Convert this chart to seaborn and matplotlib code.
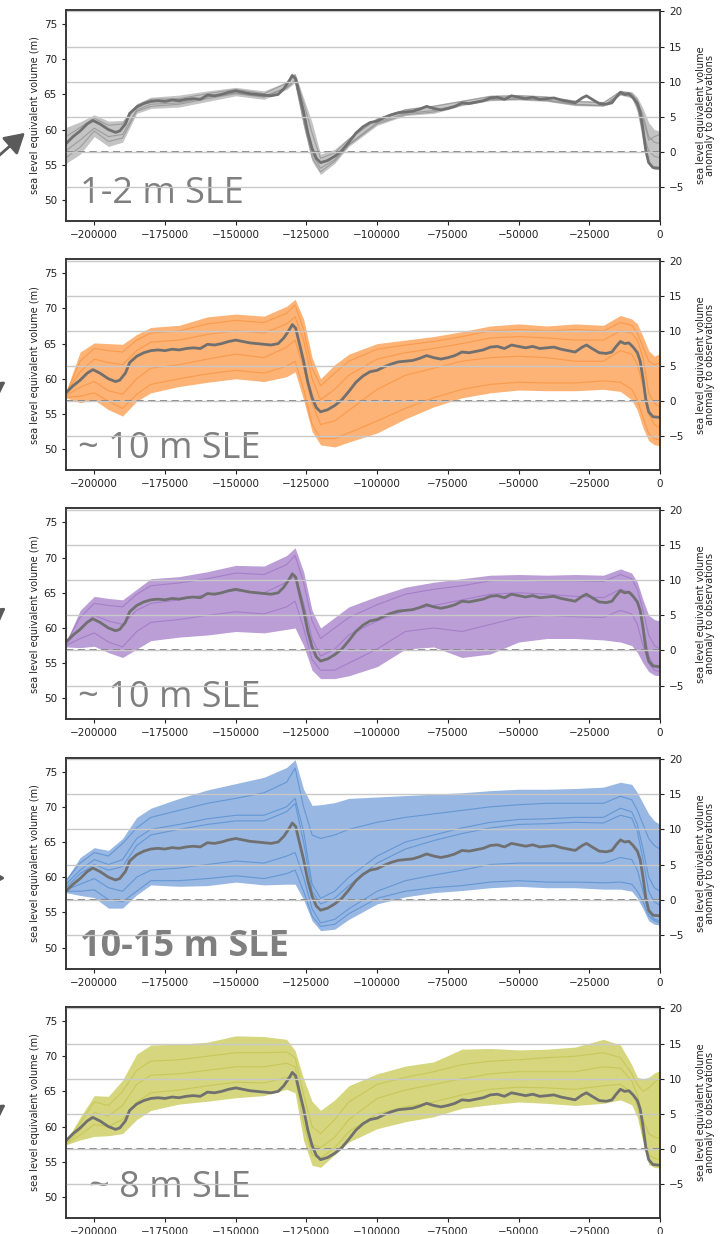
import matplotlib
matplotlib.use("Agg")
import matplotlib.pyplot as plt
import numpy as np
import seaborn as sns

# time grid (kyr) shared by envelopes and ensemble members
T_KYR = [-210, -205, -200, -195, -190, -185, -180, -170, -160, -150, -140, -132, -129,
         -126, -123, -120, -115, -110, -100, -90, -80, -70, -60, -50, -40, -30, -20,
         -14, -10, -8, -6, -4, -2, 0]

# reference run (thick grey line, same in every panel)
MEAN_T_KYR = [-210, -207.5, -205, -202.5, -200.5, -198, -195, -192.5, -191, -189, -187.5,
              -185, -182.5, -180, -177.5, -175, -172.5, -170, -167.5, -165, -162.5, -160,
              -157.5, -155, -152.5, -150, -147.5, -145, -142.5, -140, -137.5, -135, -133,
              -131, -130, -128.8, -127.5, -126, -124.5, -123, -121.5, -120, -117.5, -115,
              -112.5, -110, -107.5, -105, -102.5, -100, -97.5, -95, -92.5, -90, -87.5, -85,
              -82.5, -80, -77.5, -75, -72.5, -70, -67.5, -65, -62.5, -60, -57.5, -55, -52.5,
              -50, -47.5, -45, -42.5, -40, -37.5, -35, -32.5, -30, -27.5, -26, -24, -21.5,
              -19, -17, -15.5, -14, -12.5, -11, -9.5, -8, -7, -6, -5, -4, -2.5, 0]
MEAN_V = [58.0, 59.0, 59.8, 60.8, 61.3, 60.8, 60.0, 59.6, 59.8, 60.8, 62.3,
          63.2, 63.7, 64.0, 64.1, 64.0, 64.2, 64.1, 64.3, 64.4, 64.3, 64.9,
          64.8, 65.0, 65.3, 65.5, 65.3, 65.1, 65.0, 64.9, 64.8, 65.0, 65.8,
          67.0, 67.7, 67.2, 65.0, 62.5, 59.5, 57.3, 55.9, 55.3, 55.6, 56.2,
          57.0, 58.2, 59.5, 60.4, 61.0, 61.2, 61.7, 62.1, 62.4, 62.5, 62.6, 62.9,
          63.3, 63.0, 62.8, 63.0, 63.3, 63.8, 63.7, 63.9, 64.1, 64.5, 64.6, 64.3, 64.8,
          64.6, 64.4, 64.6, 64.3, 64.4, 64.5, 64.2, 64.0, 63.8, 64.5, 64.8, 64.3, 63.7,
          63.6, 63.8, 64.6, 65.3, 65.0, 65.1, 64.5, 63.7, 62.5, 60.0, 57.0, 55.3, 54.6, 54.5]

OBS_LEVEL = 56.8  # observed volume -> zero of the anomaly axis

# panel 1 (grey, 1-2 m SLE)
GREY_UP = [60.3, 61.1, 62.1, 61.2, 61.3, 63.7, 64.6, 64.9, 65.5, 66.0, 65.5, 66.8, 68.0,
           64.5, 61.0, 56.5, 57.2, 58.9, 61.7, 63.0, 63.5, 64.2, 64.9, 65.0, 64.8, 64.2,
           64.0, 65.6, 65.4, 64.6, 63.0, 61.0, 60.0, 59.8]
GREY_LO = [55.2, 56.5, 59.0, 57.6, 58.2, 62.3, 63.0, 63.2, 64.0, 64.8, 64.3, 65.7, 66.7,
           60.5, 55.5, 53.6, 55.2, 57.6, 60.6, 62.0, 62.3, 63.4, 64.1, 64.2, 64.0, 63.4,
           63.3, 64.9, 64.5, 62.5, 58.0, 55.0, 54.3, 54.3]
GREY_MEMBERS = [
    [57.0, 58.5, 60.2, 59.0, 59.3, 62.8, 63.6, 63.8, 64.6, 65.2, 64.7, 66.0, 67.0, 61.5,
     56.5, 54.5, 55.7, 57.9, 61.0, 62.3, 62.7, 63.6, 64.3, 64.4, 64.2, 63.6, 63.4, 65.1,
     64.8, 63.2, 59.5, 57.0, 56.2, 56.0],
    [59.0, 60.3, 61.6, 60.6, 60.8, 63.4, 64.3, 64.4, 65.1, 65.7, 65.1, 66.6, 67.8, 63.8,
     59.5, 55.9, 56.7, 58.6, 61.5, 62.8, 63.3, 64.0, 64.7, 64.8, 64.6, 64.0, 63.8, 65.4,
     65.1, 64.2, 62.0, 59.0, 58.2, 58.0],
    [56.0, 57.5, 59.8, 58.3, 58.8, 62.6, 63.3, 63.6, 64.4, 65.1, 64.6, 65.9, 66.9, 61.0,
     56.0, 54.0, 55.5, 57.8, 60.8, 62.1, 62.5, 63.5, 64.2, 64.3, 64.1, 63.5, 63.4, 65.0,
     64.7, 63.8, 61.5, 58.5, 59.0, 59.3],
]

# panel 2 (orange, ~10 m SLE)
ORANGE_UP = [58.2, 63.8, 65.1, 65.0, 64.9, 66.3, 67.3, 67.6, 68.8, 69.2, 68.9, 70.3, 71.3,
             68.5, 63.0, 60.0, 62.0, 63.5, 65.0, 65.5, 66.0, 66.7, 67.5, 67.8, 67.5, 67.8,
             67.6, 69.0, 68.5, 67.8, 66.0, 64.0, 63.2, 63.6]
ORANGE_LO = [57.3, 56.6, 57.0, 55.6, 54.7, 56.8, 58.0, 58.9, 59.5, 60.0, 59.6, 60.3, 61.0,
             57.0, 52.5, 50.6, 50.3, 51.0, 52.3, 54.3, 56.0, 57.3, 58.0, 58.4, 58.3, 58.3,
             58.5, 58.2, 57.0, 55.5, 53.0, 51.2, 50.6, 50.5]
ORANGE_MEMBERS = [
    [57.8, 62.5, 64.3, 64.0, 63.8, 65.5, 66.5, 66.8, 67.8, 68.3, 68.0, 69.3, 70.5, 67.0,
     61.5, 59.0, 60.8, 62.5, 64.2, 64.8, 65.3, 66.0, 66.8, 67.0, 66.8, 67.0, 66.8, 68.0,
     67.6, 66.5, 64.5, 62.5, 62.0, 62.3],
    [58.0, 61.0, 62.8, 62.3, 62.0, 64.0, 65.2, 65.5, 66.3, 66.8, 66.5, 67.8, 68.8, 65.5,
     60.0, 57.0, 58.5, 60.5, 62.8, 63.7, 64.3, 65.0, 65.8, 66.0, 65.8, 65.5, 65.5, 66.8,
     66.5, 65.5, 63.0, 58.0, 56.5, 56.0],
    [57.6, 58.8, 59.6, 58.3, 57.8, 60.0, 61.5, 62.0, 62.8, 63.5, 63.0, 64.5, 65.5, 61.5,
     56.5, 53.5, 54.0, 55.5, 58.5, 60.5, 61.5, 62.5, 63.0, 63.2, 63.0, 62.5, 62.5, 64.0,
     63.5, 62.0, 59.0, 55.0, 53.5, 53.0],
    [57.4, 57.5, 58.0, 56.8, 55.8, 57.8, 59.2, 60.0, 60.7, 61.2, 60.8, 61.8, 62.5, 58.5,
     53.5, 51.5, 51.5, 52.3, 54.0, 55.8, 57.3, 58.5, 59.2, 59.5, 59.4, 59.4, 59.7, 59.5,
     58.5, 57.0, 54.5, 52.2, 51.5, 51.3],
]

# panel 3 (purple, ~10 m SLE)
PURPLE_UP = [58.0, 62.5, 64.5, 64.2, 64.0, 65.5, 67.0, 67.3, 68.0, 68.9, 68.8, 70.3, 71.4,
             68.0, 62.5, 60.0, 61.5, 63.0, 64.5, 65.8, 66.5, 67.0, 67.5, 67.6, 67.5, 67.6,
             67.5, 68.4, 67.8, 66.5, 64.0, 61.8, 61.2, 61.0]
PURPLE_LO = [57.3, 57.2, 57.4, 56.5, 55.8, 57.0, 58.2, 58.7, 59.0, 59.5, 59.3, 59.8, 60.0,
             57.5, 54.0, 52.8, 52.8, 53.2, 54.5, 57.0, 57.3, 55.8, 56.3, 58.0, 58.5, 58.5,
             58.3, 58.0, 57.5, 56.5, 55.0, 53.8, 53.3, 53.2]
PURPLE_MEMBERS = [
    [57.8, 61.5, 63.5, 63.2, 63.0, 64.8, 66.0, 66.4, 67.0, 67.8, 67.6, 69.0, 70.3, 66.5,
     61.0, 58.5, 60.0, 61.5, 63.3, 64.8, 65.5, 66.0, 66.7, 66.8, 66.7, 66.7, 66.6, 67.6,
     67.0, 65.5, 62.5, 59.0, 57.5, 57.0],
    [57.7, 60.0, 61.8, 61.0, 60.5, 62.5, 63.5, 64.0, 64.8, 65.3, 65.0, 66.5, 67.5, 63.5,
     58.5, 56.0, 57.0, 59.0, 61.0, 62.5, 63.2, 64.0, 64.8, 65.0, 64.8, 64.5, 64.3, 65.5,
     65.0, 63.5, 60.5, 56.0, 54.5, 54.2],
    [57.5, 58.5, 59.3, 58.0, 57.3, 59.5, 60.8, 61.2, 61.8, 62.3, 62.0, 63.0, 63.8, 60.0,
     55.5, 54.0, 54.0, 55.0, 57.0, 59.5, 60.0, 59.5, 60.5, 61.5, 61.8, 61.6, 61.5, 62.5,
     62.0, 60.5, 57.5, 55.0, 54.0, 53.8],
]

# panel 4 (blue, 10-15 m SLE)
BLUE_UP = [59.7, 62.8, 64.2, 63.8, 65.5, 68.5, 69.8, 71.2, 72.4, 73.3, 74.2, 75.6, 76.7,
           72.5, 70.2, 70.3, 70.6, 71.2, 71.4, 71.6, 71.8, 72.0, 72.3, 72.5, 72.5, 72.6,
           72.8, 73.5, 73.2, 72.0, 70.5, 69.0, 68.0, 67.5]
BLUE_LO = [57.8, 57.4, 57.1, 55.6, 55.6, 57.5, 58.9, 58.7, 58.8, 59.3, 58.9, 59.0, 59.0,
           56.8, 53.8, 52.4, 52.6, 54.0, 56.2, 57.2, 57.8, 58.1, 58.5, 58.7, 58.5, 58.5,
           58.3, 58.3, 58.0, 57.0, 55.5, 53.8, 53.3, 53.2]
BLUE_MEMBERS = [
    [59.5, 62.0, 63.5, 63.0, 64.8, 67.0, 68.5, 69.5, 70.5, 71.2, 72.0, 73.5, 75.5, 70.0,
     66.0, 65.5, 66.0, 66.8, 67.8, 68.5, 69.0, 69.5, 70.0, 70.3, 70.5, 70.5, 70.5, 71.5,
     71.0, 69.5, 67.5, 65.5, 64.5, 64.0],
    [59.0, 61.0, 62.5, 61.8, 62.5, 65.5, 66.8, 67.5, 68.3, 68.8, 68.8, 70.0, 71.2, 66.5,
     59.0, 57.0, 58.0, 60.0, 63.0, 65.0, 66.0, 67.0, 67.8, 68.2, 68.3, 68.5, 68.5, 69.8,
     69.3, 67.5, 64.0, 60.0, 58.5, 58.0],
    [58.5, 60.5, 61.8, 61.0, 61.5, 64.5, 66.0, 66.8, 67.5, 68.0, 68.0, 69.3, 70.5, 65.0,
     58.0, 56.2, 57.0, 58.8, 62.0, 64.0, 65.2, 66.2, 67.0, 67.5, 67.6, 67.8, 67.7, 68.8,
     68.4, 66.5, 62.5, 58.0, 56.5, 56.0],
    [58.2, 59.0, 59.8, 58.5, 58.0, 60.0, 61.0, 61.3, 61.8, 62.3, 62.0, 63.0, 63.5, 60.0,
     55.5, 53.5, 54.0, 55.5, 58.0, 59.5, 60.3, 61.0, 61.8, 62.0, 62.0, 62.0, 62.0, 62.8,
     62.5, 61.0, 58.0, 55.0, 54.0, 53.8],
    [58.0, 58.0, 58.2, 56.8, 56.5, 58.0, 59.5, 59.5, 59.8, 60.2, 59.8, 60.5, 61.0, 58.0,
     54.5, 53.0, 53.3, 54.8, 57.0, 58.0, 58.5, 58.8, 59.3, 59.5, 59.3, 59.3, 59.2, 59.3,
     59.0, 58.0, 56.5, 54.5, 53.8, 53.5],
]

# panel 5 (olive, ~8 m SLE)
OLIVE_UP = [57.9, 61.3, 64.4, 64.3, 66.6, 70.3, 71.6, 71.7, 72.0, 72.9, 72.8, 72.4, 70.8,
            66.8, 63.6, 62.3, 63.8, 65.8, 67.5, 68.6, 69.2, 71.0, 71.1, 70.9, 71.0, 71.3,
            72.4, 71.6, 68.8, 67.0, 66.8, 67.0, 67.6, 68.0]
OLIVE_LO = [57.4, 58.1, 58.6, 58.7, 59.0, 61.0, 62.3, 63.2, 63.6, 64.1, 64.4, 65.3, 64.8,
            58.0, 54.5, 54.2, 56.0, 57.8, 59.7, 60.7, 61.4, 62.6, 63.1, 63.5, 63.3, 63.0,
            63.3, 63.8, 63.1, 61.3, 57.8, 54.6, 54.2, 54.1]
OLIVE_MEMBERS = [
    [57.8, 60.5, 63.5, 63.0, 65.0, 68.0, 69.3, 69.5, 70.0, 70.5, 70.5, 70.6, 69.8, 64.5,
     60.0, 59.0, 61.0, 63.5, 66.0, 67.0, 67.8, 68.8, 69.3, 69.5, 69.8, 70.0, 70.5, 69.8,
     67.5, 66.0, 65.0, 65.5, 66.3, 66.8],
    [57.6, 59.5, 62.0, 61.5, 63.0, 66.0, 67.3, 67.5, 68.0, 68.5, 68.5, 69.0, 68.5, 62.0,
     57.5, 57.0, 58.5, 61.0, 64.0, 65.2, 66.0, 66.8, 67.5, 67.8, 67.8, 67.8, 68.5, 68.3,
     66.5, 64.5, 61.0, 59.0, 58.5, 58.3],
    [57.5, 58.8, 60.3, 60.0, 61.0, 63.5, 64.8, 65.2, 65.8, 66.3, 66.2, 67.0, 67.0, 60.5,
     56.0, 55.5, 57.0, 59.3, 61.8, 62.8, 63.5, 64.5, 65.3, 65.6, 65.5, 65.3, 65.8, 66.0,
     64.8, 63.0, 58.5, 56.0, 55.5, 55.3],
]

LABELS = ["1-2 m SLE", "~ 10 m SLE", "~ 10 m SLE", "10-15 m SLE", "~ 8 m SLE"]

panels = [
    dict(up=GREY_UP, lo=GREY_LO, members=GREY_MEMBERS, fill="#c4c4c4", line="#8c8c8c",
         label=LABELS[0], bold=False, tx=0.024, ty=0.085),
    dict(up=ORANGE_UP, lo=ORANGE_LO, members=ORANGE_MEMBERS, fill="#fdb276", line="#f7913a",
         label=LABELS[1], bold=False, tx=0.020, ty=0.057),
    dict(up=PURPLE_UP, lo=PURPLE_LO, members=PURPLE_MEMBERS, fill="#bb9ed6", line="#9a72c4",
         label=LABELS[2], bold=False, tx=0.020, ty=0.057),
    dict(up=BLUE_UP, lo=BLUE_LO, members=BLUE_MEMBERS, fill="#98b7e2", line="#4f8ad0",
         label=LABELS[3], bold=True, tx=0.024, ty=0.058),
    dict(up=OLIVE_UP, lo=OLIVE_LO, members=OLIVE_MEMBERS, fill="#d5d67e", line="#c2c24a",
         label=LABELS[4], bold=False, tx=0.038, ty=0.100),
]

sns.set_style("ticks")
plt.rcParams["font.family"] = ["DejaVu Sans"]

t = np.array(T_KYR) * 1000.0
mt = np.array(MEAN_T_KYR) * 1000.0

fig = plt.figure(figsize=(7.25, 12.34), dpi=100)
left, width, height = 66 / 725, 594 / 725, 211 / 1234
tops = [10, 259.2, 508.4, 757.6, 1007]

for top, p in zip(tops, panels):
    bottom = 1 - (top + 211) / 1234
    ax = fig.add_axes([left, bottom, width, height])
    ax.fill_between(t, p["lo"], p["up"], color=p["fill"], lw=0)
    for m in p["members"]:
        sns.lineplot(x=t, y=m, ax=ax, color=p["line"], lw=0.8, alpha=0.7)
    sns.lineplot(x=mt, y=MEAN_V, ax=ax, color="#707070", lw=2.0)
    ax.axhline(OBS_LEVEL, color="#7a7a7a", ls="--", lw=1.3, dashes=(4, 2.5))
    ax.set_xlim(-210000, 0)
    ax.set_ylim(47, 77)
    ax.set_yticks([50, 55, 60, 65, 70, 75])
    ax.set_xticks(np.arange(-200000, 1, 25000))
    ax.set_ylabel("sea level equivalent volume (m)", fontsize=7, color="#222222",
                  labelpad=3)
    ax.tick_params(labelsize=7.5, length=3, colors="#222222")
    for s in ax.spines.values():
        s.set_color("#333333")
        s.set_linewidth(1.1)

    ax2 = ax.twinx()
    ax2.set_ylim(47 - OBS_LEVEL, 77 - OBS_LEVEL)
    ax2.set_yticks([-5, 0, 5, 10, 15, 20])
    ax2.grid(axis="y", color="#c8c8c8", lw=1.0)
    ax2.set_ylabel("sea level equivalent volume\nanomaly to observations", fontsize=7,
                   color="#222222", linespacing=0.95, labelpad=8)
    ax2.tick_params(labelsize=7.5, length=3, colors="#222222")
    for s in ax2.spines.values():
        s.set_color("#333333")
        s.set_linewidth(1.1)

    ax.text(p["tx"], p["ty"], p["label"], transform=ax.transAxes, fontsize=26,
            fontweight="bold" if p["bold"] else "normal", color="#7f7f7f",
            family=["Open Sans", "DejaVu Sans"], va="baseline", ha="left", zorder=5)

# arrow fragments at the left edge (cut-off slide annotations)
arrows = [((-6, 160), (27, 131)), ((-25, 402), (8, 380)), ((-25, 630), (8, 606)),
          ((-25, 878), (8, 878)), ((-25, 1125), (8, 1103))]
H = 1234
for (x0, y0), (x1, y1) in arrows:
    fig.add_artist(matplotlib.patches.FancyArrowPatch(
        (x0 / 725, 1 - y0 / H), (x1 / 725, 1 - y1 / H), transform=fig.transFigure,
        arrowstyle="-|>,head_length=6,head_width=3.5", color="#5a5a5a", lw=2,
        mutation_scale=2))

fig.savefig("out.png", dpi=100)
